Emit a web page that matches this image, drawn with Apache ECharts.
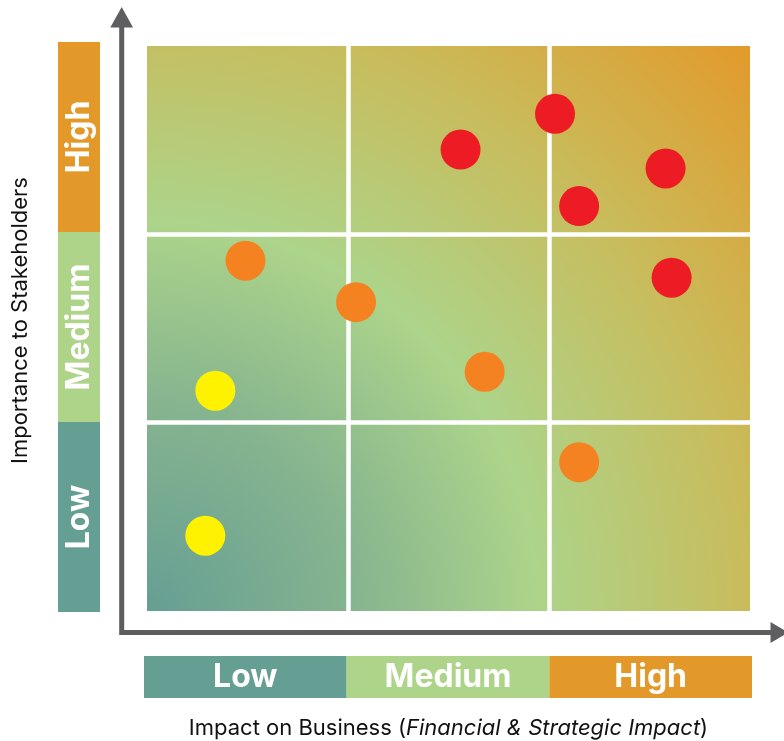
<!DOCTYPE html>
<html><head><meta charset="utf-8">
<script src="https://cdn.jsdelivr.net/npm/echarts@6/dist/echarts.min.js"></script>
<style>html,body{margin:0;padding:0;background:#fff}#c{width:784px;height:741px}</style>
</head><body><div id="c"></div>
<script>
// ---- data ----
const levels = ['Low', 'Medium', 'High'];
const levelColors = ['#659E93', '#AED48A', '#E3992A'];
const bandValues = [1, 1, 1];
const impact     = [1.56, 2.03, 2.58, 2.15, 2.61, 0.49, 1.04, 1.68, 2.15, 0.34, 0.29];
const importance = [2.45, 2.64, 2.35, 2.15, 1.77, 1.86, 1.64, 1.27, 0.79, 1.17, 0.40];
const priority   = ['High','High','High','High','High','Medium','Medium','Medium','Medium','Low','Low'];
const priorityColors = { High: '#ED1C24', Medium: '#F58220', Low: '#FFF200' };

const FONT = 'Inter, Roboto, "Liberation Sans", sans-serif';
const chart = echarts.init(document.getElementById('c'), null, { renderer: 'canvas' });

const scatterSeries = ['Low', 'Medium', 'High'].map(p => ({
  type: 'scatter', name: p, xAxisIndex: 0, yAxisIndex: 0, z: 5,
  symbolSize: 40,
  itemStyle: { color: priorityColors[p], opacity: 1 },
  data: impact.map((x, i) => [x, importance[i], priority[i]]).filter(d => d[2] === p)
}));

const bgGradient = new echarts.graphic.RadialGradient(0, 1, 1.47, [
  { offset: 0, color: '#659E93' },
  { offset: 0.25, color: '#86B48F' },
  { offset: 0.47, color: '#ACD48A' },
  { offset: 0.72, color: '#C8BC5C' },
  { offset: 1, color: '#E3992A' }
]);

const axisGrey = '#5E5E60';

chart.setOption({
  animation: false,
  backgroundColor: '#fff',
  grid: [
    { left: 147, right: 34, top: 46, bottom: 130, show: true, backgroundColor: bgGradient, borderWidth: 0,
      containLabel: false, outerBoundsMode: 'none' },
    { left: 144, right: 32, top: 656, bottom: 43, outerBoundsMode: 'none' },
    { left: 58, width: 42, top: 42, bottom: 129, outerBoundsMode: 'none' }
  ],
  xAxis: [
    { gridIndex: 0, type: 'value', min: 0, max: 3, interval: 1,
      axisLine: { show: false }, axisTick: { show: false }, axisLabel: { show: false },
      splitLine: { show: true, showMinLine: false, showMaxLine: false, lineStyle: { color: '#fff', width: 4.5 } },
      name: 'Impact on Business ({i|Financial & Strategic Impact})',
      nameLocation: 'middle', nameGap: 106,
      nameTextStyle: { fontFamily: FONT, fontSize: 22, color: '#111',
        rich: { i: { fontFamily: FONT, fontSize: 22, fontStyle: 'italic', color: '#111' } } }
    },
    { gridIndex: 1, type: 'category', data: levels, show: false },
    { gridIndex: 2, type: 'value', min: 0, max: 1, show: false }
  ],
  yAxis: [
    { gridIndex: 0, type: 'value', min: 0, max: 3, interval: 1,
      axisLine: { show: false }, axisTick: { show: false }, axisLabel: { show: false },
      splitLine: { show: true, showMinLine: false, showMaxLine: false, lineStyle: { color: '#fff', width: 4.5 } },
      name: 'Importance to Stakeholders',
      nameLocation: 'middle', nameGap: 116,
      nameTextStyle: { fontFamily: FONT, fontSize: 22, color: '#111', padding: [0, 0, 0, 16] }
    },
    { gridIndex: 1, type: 'value', min: 0, max: 1, show: false },
    { gridIndex: 2, type: 'category', data: levels, show: false }
  ],
  series: [
    { type: 'bar', xAxisIndex: 1, yAxisIndex: 1, barWidth: '100%', barCategoryGap: 0,
      data: bandValues.map((v, i) => ({ value: v, itemStyle: { color: levelColors[i] } })),
      label: { show: true, position: 'inside', formatter: p => levels[p.dataIndex],
        color: '#fff', fontFamily: FONT, fontSize: 32, fontWeight: 'bold', padding: [4, 0, 0, 0] } },
    { type: 'bar', xAxisIndex: 2, yAxisIndex: 2, barWidth: '100%', barCategoryGap: 0,
      data: bandValues.map((v, i) => ({ value: v, itemStyle: { color: levelColors[i] } })),
      label: { show: true, position: 'inside', rotate: 90, formatter: p => levels[p.dataIndex],
        color: '#fff', fontFamily: FONT, fontSize: 32, fontWeight: 'bold' } },
    ...scatterSeries
  ],
  graphic: [
    { type: 'polyline', z: 10, shape: { points: [[121.7, 26], [121.7, 632.5], [772, 632.5]] },
      style: { stroke: axisGrey, lineWidth: 5, fill: null, lineJoin: 'miter' } },
    { type: 'polygon', z: 10, shape: { points: [[121.7, 7], [110.3, 27.5], [133, 27.5]] },
      style: { fill: axisGrey } },
    { type: 'polygon', z: 10, shape: { points: [[788, 632.5], [770.5, 622], [770.5, 643]] },
      style: { fill: axisGrey } }
  ]
});
</script></body></html>
